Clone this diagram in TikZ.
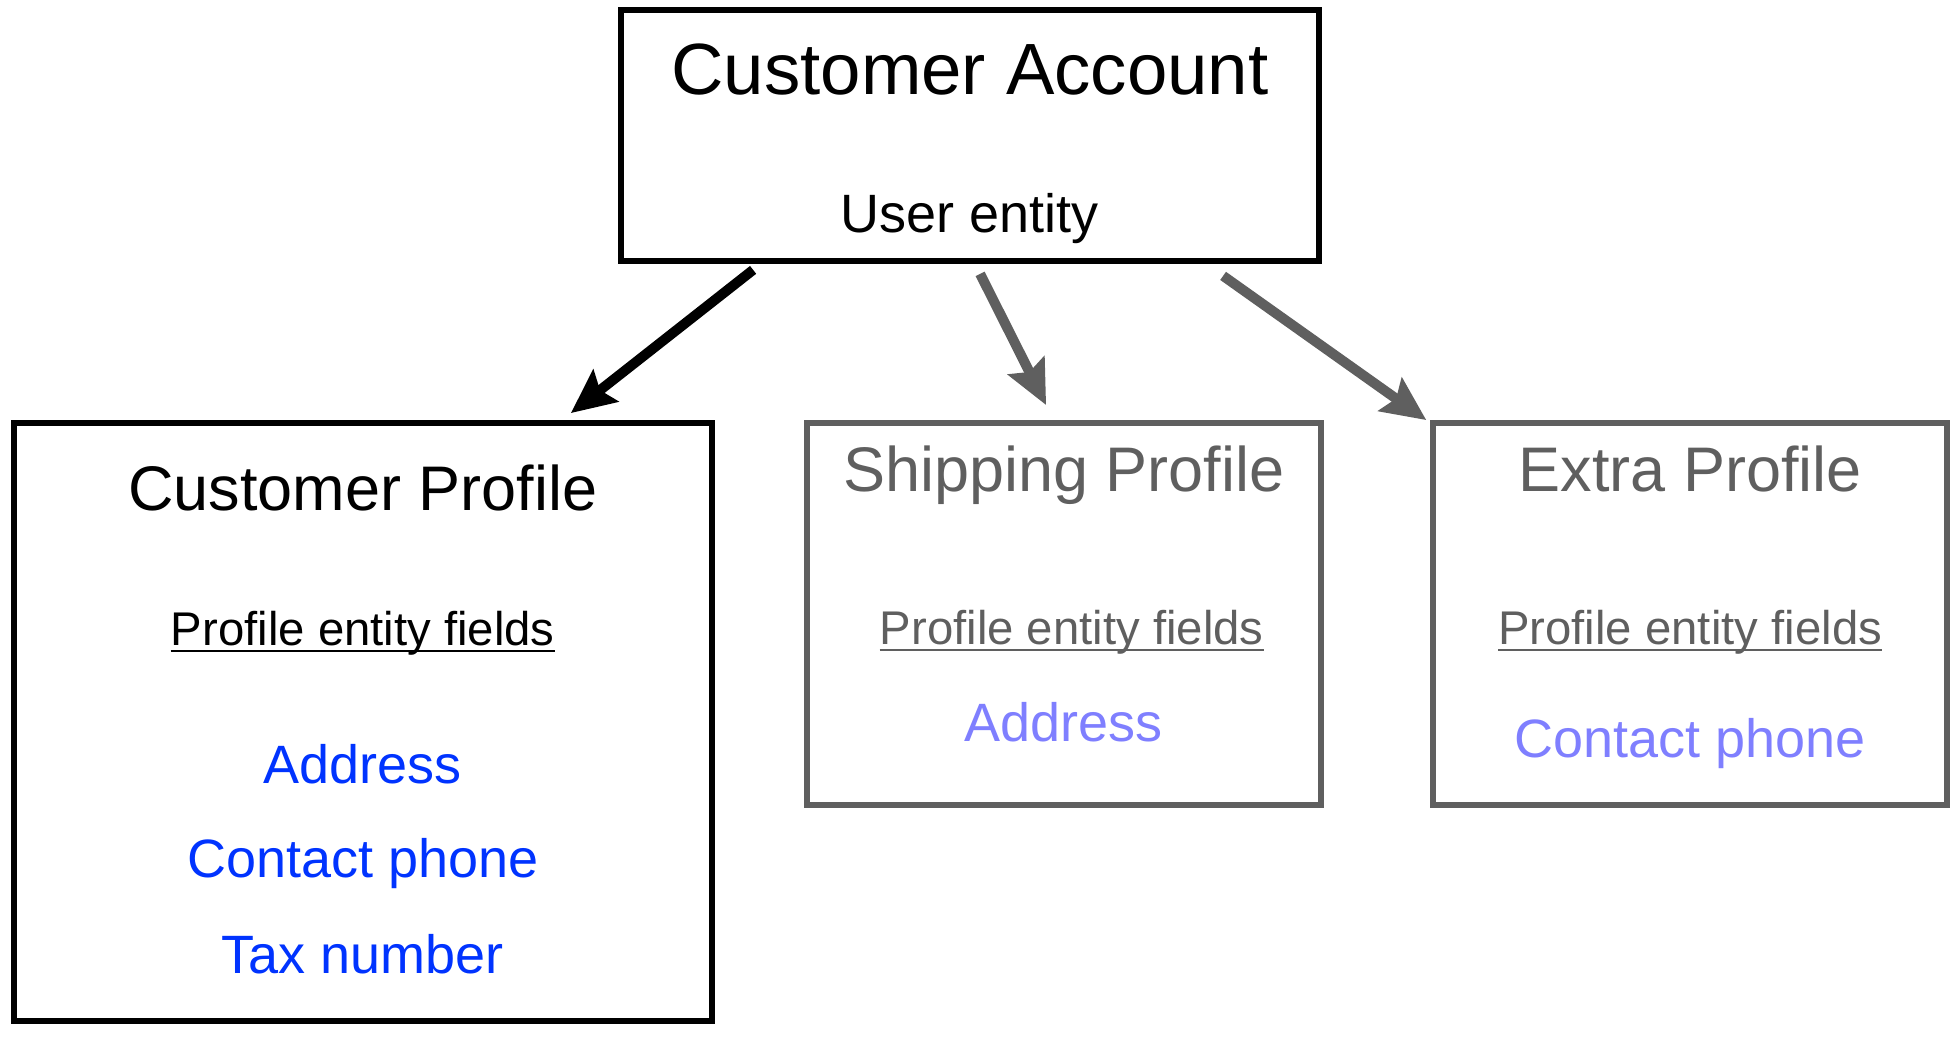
\documentclass[tikz,border=0pt]{standalone}
\usepackage{fontspec}
\setmainfont{Liberation Sans}
\usetikzlibrary{arrows.meta}
\definecolor{boxgray}{HTML}{5F5F5F}
\definecolor{fieldblue}{HTML}{0033FF}
\definecolor{fieldpale}{HTML}{7F7FFF}
\newcommand{\pxfont}[1]{\fontsize{#1}{#1}\selectfont}
\tikzset{
  entity/.style={draw, rectangle, line width=5.8pt, inner sep=0pt},
  faded/.style={draw=boxgray, text=boxgray},
  txt/.style={inner sep=0pt, anchor=base},
  title/.style={txt, font=\pxfont{63}},
  fields/.style={txt, font=\pxfont{47.3}},
  item/.style={txt, font=\pxfont{54}, text=fieldblue},
  pale item/.style={item, text=fieldpale},
  link/.style={line width=10pt, -{Stealth[length=44pt, width=40pt, inset=7pt]}}
}
\begin{document}
\begin{tikzpicture}[x=1pt, y=1pt]
  \useasboundingbox (0,0) rectangle (1958,1046);
  % entities
  \node[entity, minimum width=698pt, minimum height=251.3pt] (acct) at (970,910.65) {};
  \node[entity, minimum width=698pt, minimum height=597.8pt] (cprof) at (362.8,324.1) {};
  \node[entity, faded, minimum width=513.8pt, minimum height=382.2pt] (ship) at (1063.9,431.9) {};
  \node[entity, faded, minimum width=513.8pt, minimum height=382.2pt] (extra) at (1690.1,431.9) {};

  \node[txt, font=\pxfont{72.6}] (acct title) at (970,951) {Customer Account};
  \node[txt, font=\pxfont{54}] (acct user) at (970,813) {User entity};

  \node[title] (cprof title) at (362.8,535) {Customer Profile};
  \node[fields] (cfields) at (362.8,400) {Profile entity fields};
  \node[item] (caddr) at (362.8,262) {Address};
  \node[item] (cphone) at (362.8,168) {Contact phone};
  \node[item] (ctax) at (362.8,72) {Tax number};

  \node[title, text=boxgray] (ship title) at (1063.9,554) {Shipping Profile};
  \node[fields, text=boxgray] (sfields) at (1071.7,401) {Profile entity fields};
  \node[pale item] (saddr) at (1063.9,304) {Address};

  \node[title, text=boxgray] (extra title) at (1690.1,554) {Extra Profile};
  \node[fields, text=boxgray] (xfields) at (1690.1,401) {Profile entity fields};
  \node[pale item] (xphone) at (1690.1,288) {Contact phone};

  \foreach \n/\c in {cfields/black, sfields/boxgray, xfields/boxgray}
    \draw[\c, line width=2pt] ([yshift=-5pt]\n.base west) -- ([yshift=-5pt]\n.base east);

  \draw[link] ([xshift=135pt, yshift=-6pt]acct.south west) -- ([xshift=560pt, yshift=7pt]cprof.north west);
  \draw[link, boxgray] ([xshift=362pt, yshift=-10pt]acct.south west) -- ([xshift=242pt, yshift=15pt]ship.north west);
  \draw[link, boxgray] ([xshift=605pt, yshift=-12pt]acct.south west) -- ([xshift=-4pt, yshift=0pt]extra.north west);
\end{tikzpicture}
\end{document}
